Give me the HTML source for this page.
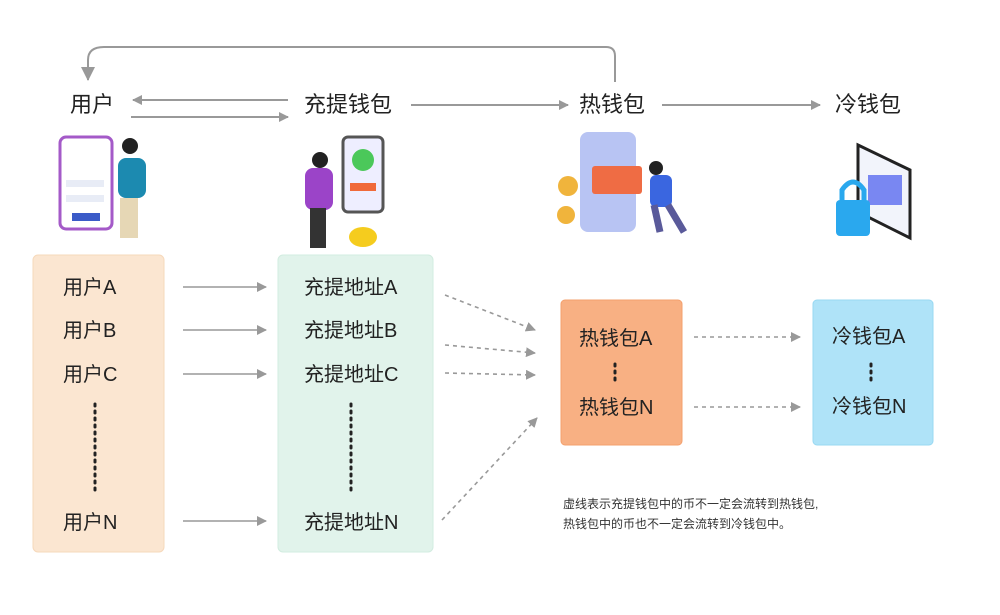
<!DOCTYPE html>
<html><head><meta charset="utf-8"><style>
html,body{margin:0;padding:0;background:#fff;}
svg{display:block;font-family:"Liberation Sans","Noto Sans CJK SC",sans-serif;}
</style></head><body>
<svg width="1000" height="615" viewBox="0 0 1000 615" xmlns="http://www.w3.org/2000/svg">
<defs>
<marker id="a" markerWidth="10" markerHeight="10" refX="9" refY="5" orient="auto" markerUnits="userSpaceOnUse"><path d="M0,0 L10,5 L0,10 Z" fill="#999"/></marker>
<marker id="b" markerWidth="14" markerHeight="14" refX="13" refY="7" orient="auto" markerUnits="userSpaceOnUse"><path d="M0,0 L14,7 L0,14 Z" fill="#999"/></marker>
</defs>
<!-- loop -->
<path d="M615,82 V56 Q615,47 606,47 H104 Q88,47 88,60 V80" fill="none" stroke="#999" stroke-width="2" marker-end="url(#b)"/>
<g font-size="22" fill="#222">
<text x="70" y="112">用户</text>
<text x="304" y="112">充提钱包</text>
<text x="579" y="112">热钱包</text>
<text x="835" y="112">冷钱包</text>
</g>
<g stroke="#999" stroke-width="2" fill="none">
<line x1="288" y1="100" x2="133" y2="100" marker-end="url(#a)"/>
<line x1="131" y1="117" x2="288" y2="117" marker-end="url(#a)"/>
<line x1="411" y1="105" x2="568" y2="105" marker-end="url(#a)"/>
<line x1="662" y1="105" x2="820" y2="105" marker-end="url(#a)"/>
</g>
<!-- illustrations -->
<rect x="60" y="137" width="52" height="92" rx="6" fill="#fff" stroke="#a45ac8" stroke-width="3"/>
<rect x="72" y="213" width="28" height="8" fill="#3b5bc8"/>
<rect x="66" y="180" width="38" height="7" fill="#e8ecf6"/><rect x="66" y="195" width="38" height="7" fill="#e8ecf6"/>
<circle cx="130" cy="146" r="8" fill="#222"/><rect x="118" y="158" width="28" height="40" rx="8" fill="#1c8ab0"/><rect x="120" y="198" width="18" height="40" fill="#e6d7b5"/>
<rect x="343" y="137" width="40" height="75" rx="5" fill="#eef" stroke="#555" stroke-width="3"/>
<circle cx="363" cy="160" r="11" fill="#4bc85a"/><rect x="350" y="183" width="26" height="8" fill="#f06a3a"/>
<circle cx="320" cy="160" r="8" fill="#222"/><rect x="305" y="168" width="28" height="42" rx="8" fill="#9b44c8"/><rect x="310" y="208" width="16" height="40" fill="#333"/>
<ellipse cx="363" cy="237" rx="14" ry="10" fill="#f5cc1e"/>
<rect x="580" y="132" width="56" height="100" rx="8" fill="#b8c4f3"/>
<rect x="592" y="166" width="50" height="28" rx="3" fill="#ef6c44"/>
<circle cx="568" cy="186" r="10" fill="#f0b43c"/><circle cx="566" cy="215" r="9" fill="#f0b43c"/>
<circle cx="656" cy="168" r="7" fill="#222"/><rect x="650" y="175" width="22" height="32" rx="6" fill="#3a66e0"/><path d="M654,205 L660,232 M668,205 L684,232" stroke="#5a5a9a" stroke-width="7"/>
<path d="M858,145 L910,170 V238 L858,212 Z" fill="#f2f4fb" stroke="#222" stroke-width="3"/>
<rect x="868" y="175" width="34" height="30" fill="#5a6cf0" opacity=".8"/>
<rect x="836" y="200" width="34" height="36" rx="4" fill="#2aa8ee"/>
<path d="M842,200 V190 Q853,174 864,190 V200" fill="none" stroke="#2aa8ee" stroke-width="5"/>
<!-- boxes -->
<rect x="33" y="255" width="131" height="297" rx="5" fill="#fbe6d1" stroke="#f6d9bb"/>
<rect x="278" y="255" width="155" height="297" rx="5" fill="#e1f3eb" stroke="#d2ece0"/>
<rect x="561" y="300" width="121" height="145" rx="4" fill="#f8b083" stroke="#f3a06e"/>
<rect x="813" y="300" width="120" height="145" rx="4" fill="#afe3f8" stroke="#98d8f2"/>
<g font-size="20" fill="#222">
<text x="63" y="294">用户A</text><text x="63" y="337">用户B</text><text x="63" y="381">用户C</text><text x="63" y="529">用户N</text>
<text x="304" y="294">充提地址A</text><text x="304" y="337">充提地址B</text><text x="304" y="381">充提地址C</text><text x="304" y="529">充提地址N</text>
<text x="579" y="345">热钱包A</text><text x="579" y="414">热钱包N</text>
<text x="832" y="343">冷钱包A</text><text x="832" y="413">冷钱包N</text>
</g>
<g stroke="#222" stroke-width="3" stroke-dasharray="2,5" stroke-linecap="round">
<line x1="95" y1="404" x2="95" y2="490"/><line x1="351" y1="404" x2="351" y2="490"/>
<line x1="615" y1="364" x2="615" y2="382"/><line x1="871" y1="364" x2="871" y2="382"/>
</g>
<g stroke="#999" stroke-width="1.6" fill="none">
<line x1="183" y1="287" x2="266" y2="287" marker-end="url(#a)"/>
<line x1="183" y1="330" x2="266" y2="330" marker-end="url(#a)"/>
<line x1="183" y1="374" x2="266" y2="374" marker-end="url(#a)"/>
<line x1="183" y1="521" x2="266" y2="521" marker-end="url(#a)"/>
</g>
<g stroke="#999" stroke-width="1.6" fill="none" stroke-dasharray="4,4">
<line x1="445" y1="295" x2="535" y2="330" marker-end="url(#a)"/>
<line x1="445" y1="345" x2="535" y2="353" marker-end="url(#a)"/>
<line x1="445" y1="373" x2="535" y2="375" marker-end="url(#a)"/>
<line x1="442" y1="520" x2="537" y2="418" marker-end="url(#a)"/>
<line x1="694" y1="337" x2="800" y2="337" marker-end="url(#a)"/>
<line x1="694" y1="407" x2="800" y2="407" marker-end="url(#a)"/>
</g>
<g font-size="12" fill="#333">
<text x="563" y="508">虚线表示充提钱包中的币不一定会流转到热钱包,</text>
<text x="563" y="528">热钱包中的币也不一定会流转到冷钱包中。</text>
</g>
</svg>
</body></html>
